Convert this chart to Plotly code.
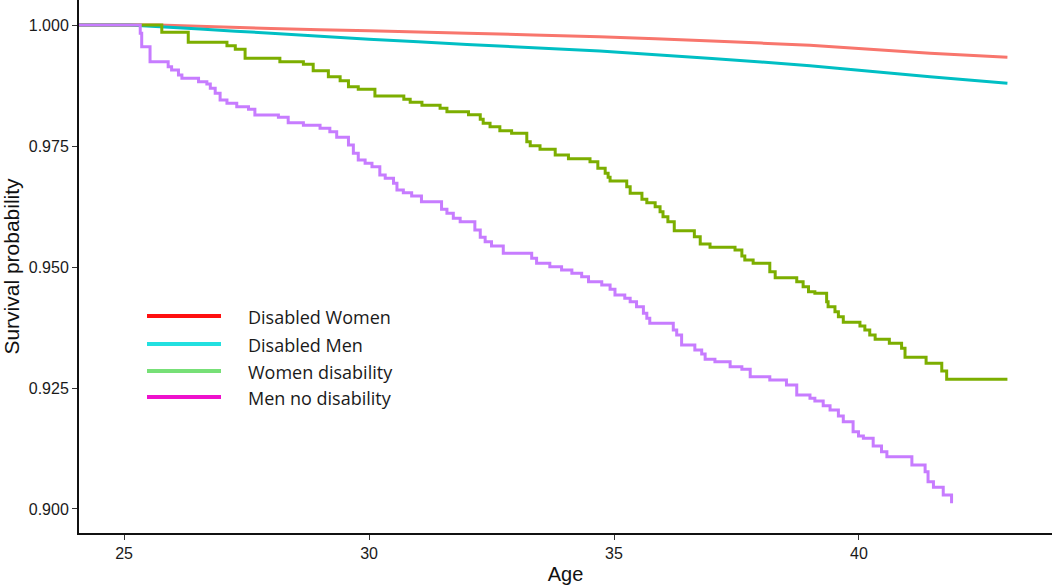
import plotly.graph_objects as go

# ---------------- data ----------------
red_age = [24.08, 25.7, 28.0, 30.0, 32.0, 34.7, 37.0, 39.0, 41.45, 43.03]
red_surv = [1.0, 1.0, 0.9993, 0.9988, 0.9983, 0.99758, 0.9967, 0.9958, 0.99415, 0.99332]

cyan_age = [24.08, 25.1, 26.55, 28.0, 30.0, 32.0, 34.71, 37.0, 39.0, 41.45, 43.03]
cyan_surv = [1.0, 1.0, 0.99917, 0.9983, 0.99705, 0.9960, 0.99463, 0.9931, 0.9916, 0.98932, 0.98795]

green_age = [24.08, 25.77, 26.31, 27.10, 27.27, 27.47, 28.18, 28.66, 28.86, 29.17,
             29.41, 29.58, 29.78, 30.12, 30.71, 30.84, 31.08, 31.45, 31.59, 32.03,
             32.27, 32.33, 32.47, 32.67, 32.91, 33.22, 33.29, 33.49, 33.80, 34.07,
             34.51, 34.67, 34.82, 34.88, 34.92, 35.26, 35.33, 35.57, 35.67, 35.84,
             35.94, 36.00, 36.10, 36.23, 36.64, 36.76, 36.96, 37.47, 37.61, 37.67,
             37.84, 38.18, 38.29, 38.73, 38.86, 38.97, 39.10, 39.34, 39.37, 39.51,
             39.58, 39.68, 40.02, 40.12, 40.22, 40.33, 40.62, 40.87, 40.94, 41.37,
             41.69, 41.79, 43.03]
green_surv = [1.0, 0.99849, 0.99643, 0.99572, 0.99498, 0.99312, 0.99242, 0.99188, 0.99056, 0.98932,
              0.98849, 0.98725, 0.98671, 0.98533, 0.98465, 0.98403, 0.98341, 0.98279, 0.98209, 0.98147,
              0.98052, 0.97969, 0.97899, 0.97816, 0.97762, 0.97589, 0.97506, 0.97432, 0.97314, 0.97238,
              0.97176, 0.97039, 0.96936, 0.96853, 0.96777, 0.96659, 0.96523, 0.96399, 0.96329, 0.96246,
              0.96143, 0.96039, 0.95936, 0.95750, 0.95626, 0.95475, 0.95407, 0.95351, 0.95227, 0.95145,
              0.95076, 0.94903, 0.94779, 0.94696, 0.94593, 0.94490, 0.94457, 0.94283, 0.94180, 0.94076,
              0.93973, 0.93857, 0.93781, 0.93698, 0.93595, 0.93506, 0.93424, 0.93320, 0.93134, 0.93010,
              0.92851, 0.92680, 0.92680]

purple_age = [24.08, 25.33, 25.36, 25.53, 25.90, 25.97, 26.11, 26.18, 26.52, 26.69,
              26.76, 26.86, 26.96, 27.10, 27.30, 27.54, 27.67, 28.15, 28.35, 28.66,
              29.00, 29.20, 29.34, 29.58, 29.68, 29.78, 29.92, 30.06, 30.22, 30.33,
              30.50, 30.57, 30.70, 30.87, 31.07, 31.48, 31.59, 31.72, 31.86, 32.16,
              32.27, 32.37, 32.50, 32.74, 33.32, 33.42, 33.69, 33.93, 34.14, 34.34,
              34.48, 34.75, 34.92, 35.02, 35.22, 35.33, 35.46, 35.60, 35.67, 35.73,
              36.21, 36.28, 36.38, 36.65, 36.79, 36.86, 37.06, 37.37, 37.61, 37.78,
              38.18, 38.52, 38.73, 39.00, 39.10, 39.27, 39.41, 39.58, 39.68, 39.88,
              39.99, 40.09, 40.29, 40.46, 40.57, 41.08, 41.35, 41.41, 41.52, 41.72,
              41.89, 41.92]
purple_surv = [1.0, 0.99829, 0.99552, 0.99242, 0.99138, 0.99070, 0.98967, 0.98899, 0.98829, 0.98781,
               0.98692, 0.98589, 0.98450, 0.98382, 0.98312, 0.98258, 0.98140, 0.98093, 0.97981, 0.97928,
               0.97866, 0.97795, 0.97680, 0.97521, 0.97349, 0.97211, 0.97143, 0.97072, 0.96901, 0.96833,
               0.96729, 0.96591, 0.96535, 0.96467, 0.96349, 0.96192, 0.96110, 0.96006, 0.95936, 0.95764,
               0.95614, 0.95523, 0.95434, 0.95283, 0.95180, 0.95076, 0.95006, 0.94938, 0.94870, 0.94800,
               0.94696, 0.94628, 0.94539, 0.94421, 0.94353, 0.94283, 0.94180, 0.94043, 0.93940, 0.93837,
               0.93698, 0.93595, 0.93388, 0.93285, 0.93202, 0.93093, 0.93043, 0.92940, 0.92886, 0.92733,
               0.92665, 0.92562, 0.92355, 0.92287, 0.92231, 0.92134, 0.92045, 0.91921, 0.91804, 0.91597,
               0.91508, 0.91461, 0.91302, 0.91184, 0.91081, 0.90909, 0.90771, 0.90564, 0.90448, 0.90289,
               0.90151, 0.90151]

x_ticks = [25, 30, 35, 40]
y_ticks = [0.900, 0.925, 0.950, 0.975, 1.000]

legend_labels = ["Disabled Women", "Disabled Men", "Women disability", "Men no disability"]
legend_colors = ["#FF1010", "#22E0E0", "#77E077", "#EE11CC"]

# ---------------- figure ----------------
W, H = 1052, 588
ML, MR, MT, MB = 79, 0, 0, 55
PW, PH = W - ML - MR, H - MT - MB

fig = go.Figure()
fig.add_trace(go.Scatter(x=red_age, y=red_surv, mode="lines",
                         line=dict(color="#F8766D", width=3, shape="spline", smoothing=0.3),
                         showlegend=False))
fig.add_trace(go.Scatter(x=cyan_age, y=cyan_surv, mode="lines",
                         line=dict(color="#00BFC4", width=3, shape="spline", smoothing=0.3),
                         showlegend=False))
fig.add_trace(go.Scatter(x=green_age, y=green_surv, mode="lines",
                         line=dict(color="#7CAE00", width=3, shape="hv"), showlegend=False))
fig.add_trace(go.Scatter(x=purple_age, y=purple_surv, mode="lines",
                         line=dict(color="#C77CFF", width=3, shape="hv"), showlegend=False))


def px_x(p):
    return (p - ML) / PW


def px_y(p):
    return (H - MB - p) / PH


legend_y = [316, 344, 371, 397]
shapes = []
annotations = []
for lab, col, ly in zip(legend_labels, legend_colors, legend_y):
    shapes.append(dict(type="line", xref="paper", yref="paper",
                       x0=px_x(147), x1=px_x(221), y0=px_y(ly), y1=px_y(ly),
                       line=dict(color=col, width=4)))
    annotations.append(dict(xref="paper", yref="paper", x=px_x(246), y=px_y(ly + 1),
                            text=lab, showarrow=False, xanchor="left", yanchor="middle",
                            font=dict(family="Open Sans", size=18, color="#1a1a1a")))

fig.update_layout(
    width=W, height=H,
    margin=dict(l=ML, r=MR, t=MT, b=MB),
    paper_bgcolor="white", plot_bgcolor="white",
    shapes=shapes, annotations=annotations,
    font=dict(family="Liberation Sans, Arial", color="#1a1a1a"),
    xaxis=dict(range=[24.08, 43.94], tickvals=x_ticks, ticks="outside", ticklen=5,
               tickcolor="#333333", tickwidth=1.3, showline=True, linecolor="#111111",
               linewidth=2, showgrid=False, zeroline=False,
               tickfont=dict(size=16, color="#1a1a1a"),
               title=dict(text="Age", font=dict(size=20, color="#111111"), standoff=6)),
    yaxis=dict(range=[0.89504, 1.00517], tickvals=y_ticks, tickformat=".3f",
               ticks="outside", ticklen=5, tickcolor="#333333", tickwidth=1.3,
               showline=True, linecolor="#111111", linewidth=2, showgrid=False,
               zeroline=False, tickfont=dict(size=16, color="#1a1a1a"),
               title=dict(text="Survival probability", font=dict(size=21, color="#111111"),
                          standoff=6)),
)

fig.write_html("out.html")
